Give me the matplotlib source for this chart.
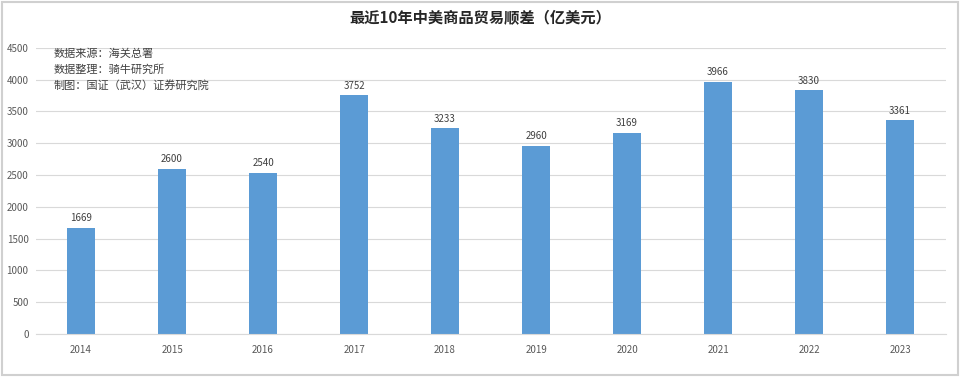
import matplotlib.pyplot as plt
import numpy as np

plt.rcParams['font.family'] = ['Noto Sans CJK SC', 'DejaVu Sans']

years = ['2014', '2015', '2016', '2017', '2018', '2019', '2020', '2021', '2022', '2023']
surplus = [1669, 2600, 2540, 3752, 3233, 2960, 3169, 3966, 3830, 3361]
title = '最近10年中美商品贸易顺差（亿美元）'
notes = ['数据来源：海关总署', '数据整理：骑牛研究所', '制图：国证（武汉）证券研究院']

fig = plt.figure(figsize=(9.6, 3.77), dpi=100)
ax = fig.add_axes([0.037, 0.114, 0.948, 0.759])

x = np.arange(len(years))
ax.bar(x, surplus, width=0.31, color='#5B9BD5', zorder=2)
for xi, v in zip(x, surplus):
    ax.text(xi, v + 70, str(v), ha='center', va='bottom', fontsize=7, color='#404040')

ax.set_xlim(-0.5, len(years) - 0.5)
ax.set_ylim(0, 4500)
ax.set_yticks(np.arange(0, 4501, 500))
ax.set_xticks(x)
ax.set_xticklabels(years)
ax.tick_params(axis='both', length=0, labelsize=7, colors='#595959')
ax.tick_params(axis='x', pad=8)
ax.tick_params(axis='y', pad=5)
ax.grid(axis='y', color='#d9d9d9', linewidth=0.8, zorder=0)
for s in ['top', 'right', 'left']:
    ax.spines[s].set_visible(False)
ax.spines['bottom'].set_color('#d9d9d9')

for i, t in enumerate(notes):
    fig.text(0.056, 0.858 - i * 0.042, t, fontsize=8, color='#404040', va='center')

fig.text(0.5, 0.952, title, ha='center', va='center', fontsize=11, fontweight='bold', color='#262626')

fig.patches.append(plt.Rectangle((0.002, 0.004), 0.996, 0.99, transform=fig.transFigure,
                                 fill=False, edgecolor='#d0d0d0', linewidth=1.5))

fig.savefig('out.png', dpi=100)
